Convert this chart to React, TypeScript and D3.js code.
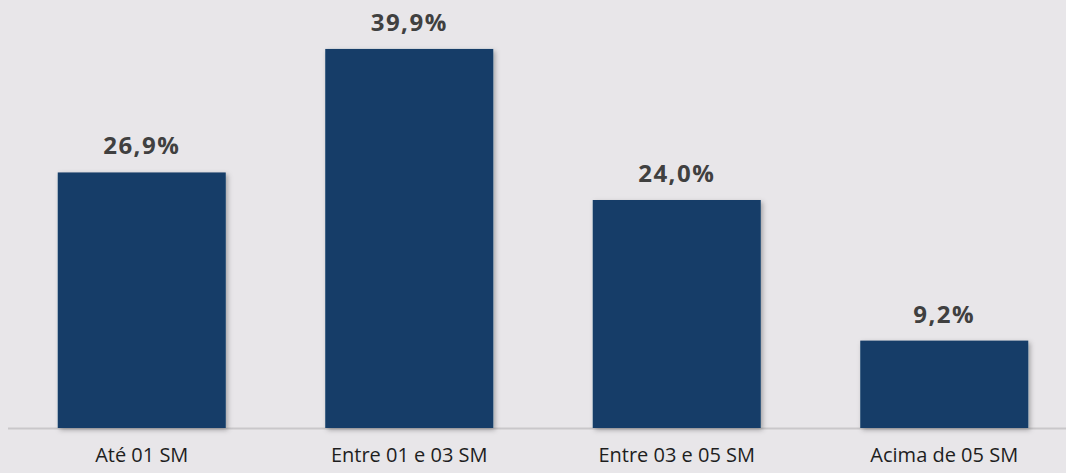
import React from "react";
import * as d3 from "d3";

const categories = ["Até 01 SM", "Entre 01 e 03 SM", "Entre 03 e 05 SM", "Acima de 05 SM"];
const values = [26.9, 39.9, 24.0, 9.2];
const valueLabels = ["26,9%", "39,9%", "24,0%", "9,2%"];

const W = 1066;
const H = 473;

export default function App() {
  const x = d3.scaleBand<string>().domain(categories).range([8, 1078]).paddingInner(0.372).paddingOuter(0.186);
  const y = d3.scaleLinear().domain([0, 45]).range([428, 428 - 9.5 * 45]);
  const font = "Candara, 'Open Sans', 'Noto Sans', sans-serif";
  return (
    <svg width={W} height={H} style={{ position: "absolute", left: 0, top: 0, background: "#e8e6e9" }}>
      <defs>
        <filter id="sh" x="-10%" y="-10%" width="125%" height="125%">
          <feDropShadow dx="2" dy="2" stdDeviation="2.5" floodColor="#000" floodOpacity="0.3" />
        </filter>
      </defs>
      <rect x={0} y={0} width={W} height={H} fill="#e8e6e9" />
      <line x1={8} x2={W} y1={428.5} y2={428.5} stroke="#c9c7ca" strokeWidth={2} />
      {categories.map((c, i) => (
        <g key={c}>
          <rect
            x={x(c)}
            y={y(values[i])}
            width={x.bandwidth()}
            height={y(0) - y(values[i])}
            fill="#153d68"
            filter="url(#sh)"
          />
          <text
            x={(x(c) as number) + x.bandwidth() / 2}
            y={y(values[i]) - 18}
            textAnchor="middle"
            fontFamily={font}
            fontWeight="bold"
            fontSize={24}
            letterSpacing={1.5}
            fill="#404040"
          >
            {valueLabels[i]}
          </text>
          <text
            x={(x(c) as number) + x.bandwidth() / 2}
            y={462}
            textAnchor="middle"
            fontFamily={font}
            fontSize={20}
            fill="#1e1e1e"
          >
            {c}
          </text>
        </g>
      ))}
    </svg>
  );
}
